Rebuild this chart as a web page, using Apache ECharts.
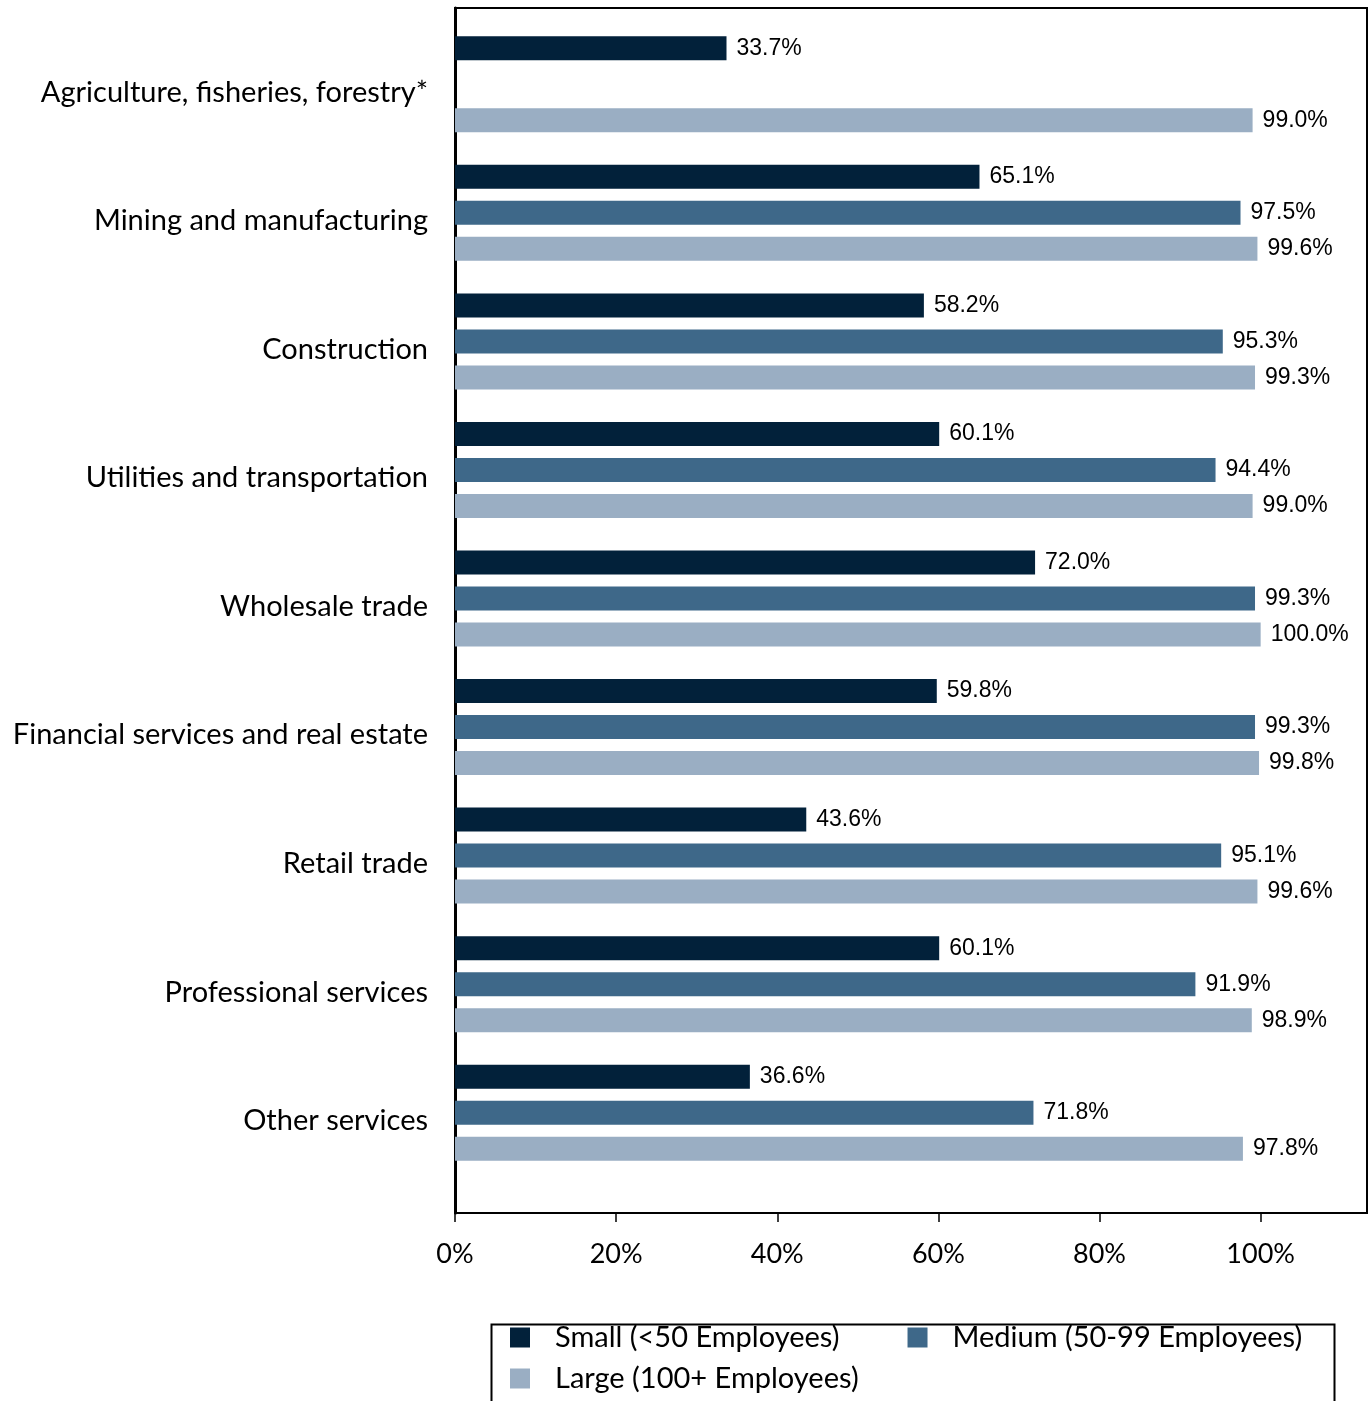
<!DOCTYPE html>
<html>
<head>
<meta charset="utf-8">
<script src="https://cdn.jsdelivr.net/npm/echarts@6/dist/echarts.min.js"></script>
<style>
  html, body { margin: 0; padding: 0; background: #fff; }
  #chart { width: 1369px; height: 1401px; }
</style>
</head>
<body>
<div id="chart"></div>
<script>
// data
const categories = [
  'Agriculture, fisheries, forestry*',
  'Mining and manufacturing',
  'Construction',
  'Utilities and transportation',
  'Wholesale trade',
  'Financial services and real estate',
  'Retail trade',
  'Professional services',
  'Other services'
]
const small = [33.7, 65.1, 58.2, 60.1, 72.0, 59.8, 43.6, 60.1, 36.6]
// no medium bar shown for agriculture
const medium = [null, 97.5, 95.3, 94.4, 99.3, 99.3, 95.1, 91.9, 71.8]
const large = [99.0, 99.6, 99.3, 99.0, 100.0, 99.8, 99.6, 98.9, 97.8]
const tickValues = [0, 20, 40, 60, 80, 100]
const seriesNames = ['Small (<50 Employees)', 'Medium (50-99 Employees)', 'Large (100+ Employees)']
const colors = ['#02213A', '#3E6889', '#9AAEC3']

const calibriLike = 'Lato, "Open Sans", sans-serif'
const X_MAX = 113.2

const chart = echarts.init(document.getElementById('chart'))

function barSeries(name, data, color) {
  return {
    name: name,
    type: 'bar',
    xAxisIndex: 1,
    yAxisIndex: 1,
    data: data,
    barWidth: 24,
    barGap: '50%',
    itemStyle: { color: color },
    label: {
      show: true,
      position: 'right',
      distance: 10,
      color: '#000',
      fontFamily: '"Liberation Sans", Arial, sans-serif',
      fontSize: 23,
      formatter: p => p.value.toFixed(1) + '%'
    }
  }
}

const option = {
  animation: false,
  backgroundColor: '#fff',
  color: colors,
  grid: [
    // frame + x axis
    {
      left: 455, right: 2, top: 8, bottom: 188,
      show: true, borderColor: '#000', borderWidth: 2
    },
    // bars (the categories don't fill the whole frame)
    { left: 455, right: 2, top: 20, height: 1157 },
    // category text, sits a bit below the bar groups
    { left: 430, width: 1, top: 28, height: 1157 }
  ],
  xAxis: [
    {
      type: 'value',
      min: 0,
      max: X_MAX,
      splitLine: { show: false },
      axisLine: { show: true, lineStyle: { color: '#000', width: 2 } },
      axisTick: {
        show: true, length: 9, customValues: tickValues,
        lineStyle: { color: '#000', width: 1.5 }
      },
      axisLabel: {
        customValues: tickValues,
        margin: 28,
        color: '#000',
        fontSize: 27,
        fontFamily: calibriLike,
        formatter: v => v + '%'
      }
    },
    { gridIndex: 1, type: 'value', min: 0, max: X_MAX, show: false },
    { gridIndex: 2, type: 'value', show: false }
  ],
  yAxis: [
    {
      type: 'value',
      splitLine: { show: false },
      axisLine: { show: true, lineStyle: { color: '#000', width: 3 } },
      axisTick: { show: false },
      axisLabel: { show: false }
    },
    {
      gridIndex: 1,
      type: 'category',
      data: categories,
      inverse: true,
      show: false
    },
    {
      gridIndex: 2,
      type: 'category',
      data: categories,
      inverse: true,
      axisLine: { show: false },
      axisTick: { show: false },
      axisLabel: {
        margin: 2,
        color: '#000',
        fontSize: 29,
        fontFamily: calibriLike
      }
    }
  ],
  legend: [
    {
      data: seriesNames.slice(0, 2),
      left: 505, top: 1318,
      icon: 'rect', itemWidth: 20, itemHeight: 20, itemGap: 68,
      textStyle: { fontSize: 29, fontFamily: calibriLike, color: '#000', padding: [0, 0, 0, 20] }
    },
    {
      data: seriesNames.slice(2),
      left: 505, top: 1359,
      icon: 'rect', itemWidth: 20, itemHeight: 20,
      textStyle: { fontSize: 29, fontFamily: calibriLike, color: '#000', padding: [0, 0, 0, 20] }
    }
  ],
  graphic: [
    {
      type: 'rect',
      left: 489, top: 1322,
      shape: { width: 843, height: 100 },
      style: { fill: 'none', stroke: '#000', lineWidth: 2 },
      silent: true
    }
  ],
  series: [
    barSeries(seriesNames[0], small, colors[0]),
    barSeries(seriesNames[1], medium, colors[1]),
    barSeries(seriesNames[2], large, colors[2])
  ]
}

chart.setOption(option)
</script>
</body>
</html>
